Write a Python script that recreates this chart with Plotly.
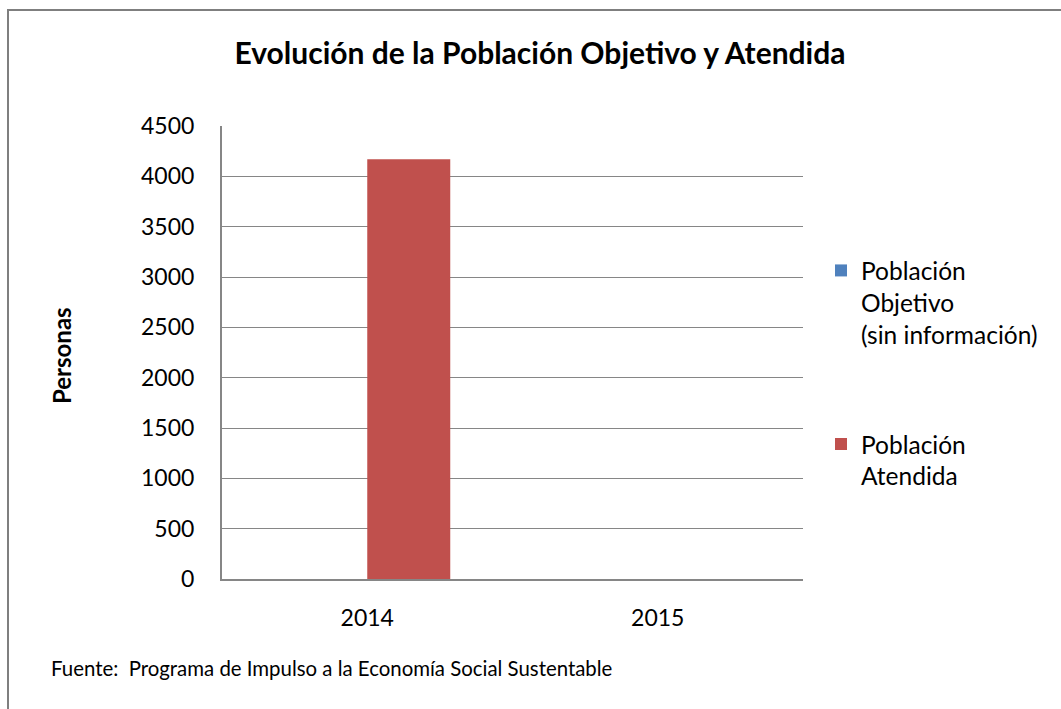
import plotly.graph_objects as go

years = ["2014", "2015"]
objetivo = [None, None]
atendida = [4170, None]
y_ticks = [0, 500, 1000, 1500, 2000, 2500, 3000, 3500, 4000, 4500]

W, H = 1061, 709
L, R, T, B = 222, 803, 126, 579
pw, ph = R - L, B - T

def px(x):
    return (x - L) / pw

def py(y):
    return (B - y) / ph

FONT = "Lato, Carlito, 'Open Sans', sans-serif"

fig = go.Figure()
fig.add_trace(go.Bar(x=years, y=objetivo, name="Población<br>Objetivo<br>(sin información)",
                     legendgroup="a",
                     marker=dict(color="#4F81BD", line=dict(width=0))))
fig.add_trace(go.Bar(x=years, y=atendida, name="Población<br>Atendida",
                     legendgroup="b",
                     marker=dict(color="#C0504D", line=dict(width=0))))

fig.update_layout(
    width=W, height=H,
    margin=dict(l=L, r=W - R, t=T, b=H - B, pad=0),
    paper_bgcolor="white", plot_bgcolor="white",
    barmode="group", bargap=1.5 / 3.5, bargroupgap=0,
    font=dict(family=FONT, size=23, color="black"),
    title=dict(text="<b>Evolución de la Población Objetivo y Atendida</b>",
               font=dict(size=30, color="black", family=FONT),
               x=px(540), xref="paper", xanchor="center",
               y=1 - 53 / H, yref="container", yanchor="middle"),
    showlegend=True,
    legend=dict(x=px(821), y=py(248), xanchor="left", yanchor="top",
                font=dict(size=24.5, family=FONT), valign="top",
                tracegroupgap=75, itemwidth=30, bgcolor="rgba(0,0,0,0)"),
    xaxis=dict(showline=True, linecolor="#868686", linewidth=2, ticks="",
               showgrid=False, tickfont=dict(size=23), ticklabelstandoff=17),
    yaxis=dict(range=[0, 4500], tickvals=y_ticks, showline=True, linecolor="#868686",
               linewidth=2, gridcolor="#868686", gridwidth=1, ticks="",
               tickfont=dict(size=23), ticklabelstandoff=21, zeroline=False),
)

fig.add_annotation(text="<b>Personas</b>", textangle=-90, x=px(61), y=py(356),
                   xref="paper", yref="paper", showarrow=False,
                   font=dict(size=24, family=FONT, color="black"),
                   xanchor="center", yanchor="middle")
fig.add_annotation(text="Fuente:  Programa de Impulso a la Economía Social Sustentable",
                   x=px(49), y=py(668), xref="paper", yref="paper", showarrow=False,
                   font=dict(size=20.4, family=FONT, color="black"),
                   xanchor="left", yanchor="middle")
fig.add_shape(type="rect", xref="paper", yref="paper",
              x0=px(8), y0=py(720), x1=px(1070), y1=py(10),
              line=dict(color="#7F7F7F", width=2), fillcolor="rgba(0,0,0,0)", layer="below")

fig.write_html("out.html", config={"displayModeBar": False},
               post_script="document.body.style.margin='0';document.body.style.padding='0';")
